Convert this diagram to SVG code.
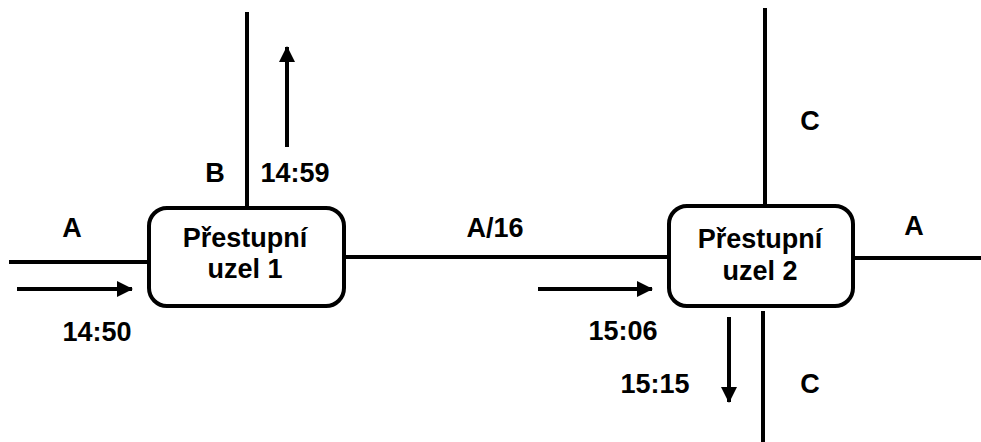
<svg xmlns="http://www.w3.org/2000/svg" width="981" height="442" viewBox="0 0 981 442">
<style>
.ln{stroke:#000;stroke-width:4;fill:none}
.ar{stroke:#000;stroke-width:4;fill:none;marker-end:url(#ah)}
.box{fill:#fff;stroke:#000;stroke-width:4}
text{font-family:"Liberation Sans",Arial,sans-serif;font-weight:bold;font-size:27px;fill:#000;text-anchor:middle}
</style>
<defs>
<marker id="ah" markerUnits="userSpaceOnUse" markerWidth="16" markerHeight="16" refX="15" refY="8" orient="auto">
<path d="M0,0 L16,8 L0,16 Z" fill="#000"/>
</marker>
</defs>
<g id="connectors">
<line class="ln" x1="9" y1="262" x2="149" y2="262"/>
<line class="ln" x1="247" y1="12" x2="247" y2="208"/>
<line class="ln" x1="344" y1="257" x2="669" y2="257"/>
<line class="ln" x1="853" y1="258" x2="981" y2="258"/>
<line class="ln" x1="765" y1="8" x2="765" y2="206"/>
<line class="ln" x1="763" y1="311" x2="763" y2="442"/>
<line class="ar" x1="17" y1="289" x2="132" y2="289"/>
<line class="ar" x1="287" y1="147" x2="287" y2="47"/>
<line class="ar" x1="538" y1="289" x2="652" y2="289"/>
<line class="ar" x1="729" y1="317" x2="729" y2="402"/>
</g>
<g id="node1">
<rect class="box" x="149" y="208" width="195" height="98" rx="18"/>
<text x="245" y="247">Přestupní</text>
<text x="245" y="278">uzel 1</text>
</g>
<g id="node2">
<rect class="box" x="669" y="206" width="184" height="100" rx="18"/>
<text x="760" y="248">Přestupní</text>
<text x="760" y="280">uzel 2</text>
</g>
<g id="labels">
<text x="72" y="237">A</text>
<text x="97" y="341">14:50</text>
<text x="215" y="182">B</text>
<text x="295" y="182">14:59</text>
<text x="495" y="237">A/16</text>
<text x="914" y="235">A</text>
<text x="810" y="130">C</text>
<text x="623" y="340">15:06</text>
<text x="655" y="393">15:15</text>
<text x="810" y="393">C</text>
</g>
</svg>
